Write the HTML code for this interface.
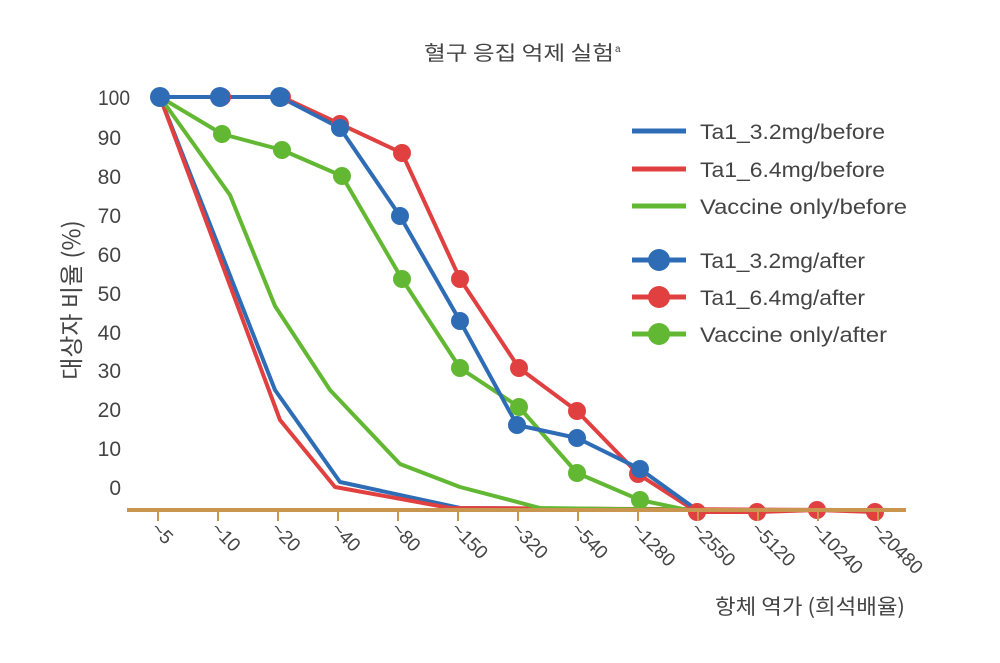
<!DOCTYPE html>
<html><head><meta charset="utf-8"><style>
html,body{margin:0;padding:0;background:#fff;}
svg text{font-family:"Liberation Sans Narrow","Liberation Sans","Noto Sans CJK KR",sans-serif;fill:#444;}
</style></head><body>
<svg width="1000" height="658" viewBox="0 0 1000 658" xmlns="http://www.w3.org/2000/svg">
<text x="424" y="60" font-size="20" style="font-family:'Noto Sans CJK KR',sans-serif" textLength="190" lengthAdjust="spacingAndGlyphs">혈구 응집 억제 실험</text><text x="615" y="52" font-size="10">a</text>
<g font-size="21" text-anchor="end">
<text x="130" y="105" textLength="32" lengthAdjust="spacingAndGlyphs">100</text><text x="121" y="145">90</text><text x="121" y="184">80</text>
<text x="121" y="223">70</text><text x="121" y="262">60</text><text x="121" y="301">50</text>
<text x="121" y="340">40</text><text x="121" y="378">30</text><text x="121" y="417">20</text>
<text x="121" y="456">10</text><text x="121" y="495">0</text>
</g>
<text transform="translate(80,300) rotate(-90)" font-size="24" text-anchor="middle" style="font-family:'Noto Sans CJK KR',sans-serif">대상자 비율 (%)</text>
<g stroke-linejoin="round" fill="none" stroke-width="4">
<polyline stroke="#2e6db5" points="160,97 275,390 340,482 460,508 700,510"/>
<polyline stroke="#e04040" points="160,97 280,420 335,487 450,508 845,510"/>
<polyline stroke="#62b833" points="160,97 230,195 275,306 330,390 400,464 460,487 540,508 700,510"/>
<polyline stroke="#e04040" points="160,97 220,97 282,97 340,124 402,153 460,279 519,368 577,411 638,474 697,512 757,512 817,510 875,512"/>
<polyline stroke="#62b833" points="160,97 222,134 282,150 342,176 402,279 460,368 519,407 577,473 640,500 697,512"/>
<polyline stroke="#2e6db5" points="160,97 220,97 280,97 340,128 400,216 460,321 517,425 577,438 640,469 697,510"/>
</g>
<g fill="#e04040">
<circle cx="340" cy="124" r="9"/><circle cx="402" cy="153" r="9"/><circle cx="460" cy="279" r="9"/><circle cx="519" cy="368" r="9"/><circle cx="577" cy="411" r="9"/><circle cx="638" cy="474" r="9"/><circle cx="697" cy="512" r="9"/><circle cx="757" cy="512" r="9"/><circle cx="817" cy="510" r="9"/><circle cx="875" cy="512" r="9"/><circle cx="222" cy="97" r="9"/><circle cx="282" cy="97" r="9"/>
</g>
<g fill="#62b833">
<circle cx="222" cy="134" r="9"/><circle cx="282" cy="150" r="9"/><circle cx="342" cy="176" r="9"/><circle cx="402" cy="279" r="9"/><circle cx="460" cy="368" r="9"/><circle cx="519" cy="407" r="9"/><circle cx="577" cy="473" r="9"/><circle cx="640" cy="500" r="9"/>
</g>
<g fill="#2e6db5">
<circle cx="160" cy="97" r="10"/><circle cx="220" cy="97" r="10"/><circle cx="280" cy="97" r="10"/><circle cx="340" cy="128" r="9"/><circle cx="400" cy="216" r="9"/><circle cx="460" cy="321" r="9"/><circle cx="517" cy="425" r="9"/><circle cx="577" cy="438" r="9"/><circle cx="640" cy="469" r="9"/>
</g>
<line x1="127" y1="510" x2="906" y2="510" stroke="#c8964e" stroke-width="4"/>
<g stroke="#c8964e" stroke-width="2">
<line x1="158" y1="510" x2="158" y2="521"/><line x1="218" y1="510" x2="218" y2="521"/><line x1="278" y1="510" x2="278" y2="521"/><line x1="338" y1="510" x2="338" y2="521"/><line x1="398" y1="510" x2="398" y2="521"/><line x1="458" y1="510" x2="458" y2="521"/><line x1="518" y1="510" x2="518" y2="521"/><line x1="578" y1="510" x2="578" y2="521"/><line x1="638" y1="510" x2="638" y2="521"/><line x1="698" y1="510" x2="698" y2="521"/><line x1="758" y1="510" x2="758" y2="521"/><line x1="818" y1="510" x2="818" y2="521"/><line x1="878" y1="510" x2="878" y2="521"/>
</g>
<g font-size="19">
<text transform="translate(150,530) rotate(45)">~5</text>
<text transform="translate(210,530) rotate(45)">~10</text>
<text transform="translate(270,530) rotate(45)">~20</text>
<text transform="translate(330,530) rotate(45)">~40</text>
<text transform="translate(390,530) rotate(45)">~80</text>
<text transform="translate(450,530) rotate(45)">~150</text>
<text transform="translate(510,530) rotate(45)">~320</text>
<text transform="translate(570,530) rotate(45)">~540</text>
<text transform="translate(630,530) rotate(45)">~1280</text>
<text transform="translate(690,530) rotate(45)">~2550</text>
<text transform="translate(750,530) rotate(45)">~5120</text>
<text transform="translate(810,530) rotate(45)">~10240</text>
<text transform="translate(870,530) rotate(45)">~20480</text>
</g>
<text x="905" y="614" font-size="21" text-anchor="end" style="font-family:'Noto Sans CJK KR',sans-serif" textLength="190" lengthAdjust="spacingAndGlyphs">항체 역가 (희석배율)</text>
<g stroke-width="5">
<line x1="632" y1="131" x2="686" y2="131" stroke="#2e6db5"/>
<line x1="632" y1="169" x2="686" y2="169" stroke="#e04040"/>
<line x1="632" y1="206" x2="686" y2="206" stroke="#62b833"/>
<line x1="632" y1="260" x2="686" y2="260" stroke="#2e6db5"/>
<line x1="632" y1="297" x2="686" y2="297" stroke="#e04040"/>
<line x1="632" y1="334" x2="686" y2="334" stroke="#62b833"/>
</g>
<circle cx="659" cy="260" r="11" fill="#2e6db5"/>
<circle cx="659" cy="297" r="11" fill="#e04040"/>
<circle cx="659" cy="334" r="11" fill="#62b833"/>
<g font-size="21">
<text x="700" y="139" textLength="185" lengthAdjust="spacingAndGlyphs">Ta1_3.2mg/before</text>
<text x="700" y="177" textLength="185" lengthAdjust="spacingAndGlyphs">Ta1_6.4mg/before</text>
<text x="700" y="214" textLength="207" lengthAdjust="spacingAndGlyphs">Vaccine only/before</text>
<text x="700" y="268" textLength="165" lengthAdjust="spacingAndGlyphs">Ta1_3.2mg/after</text>
<text x="700" y="305" textLength="165" lengthAdjust="spacingAndGlyphs">Ta1_6.4mg/after</text>
<text x="700" y="342" textLength="187" lengthAdjust="spacingAndGlyphs">Vaccine only/after</text>
</g>
</svg>
</body></html>
